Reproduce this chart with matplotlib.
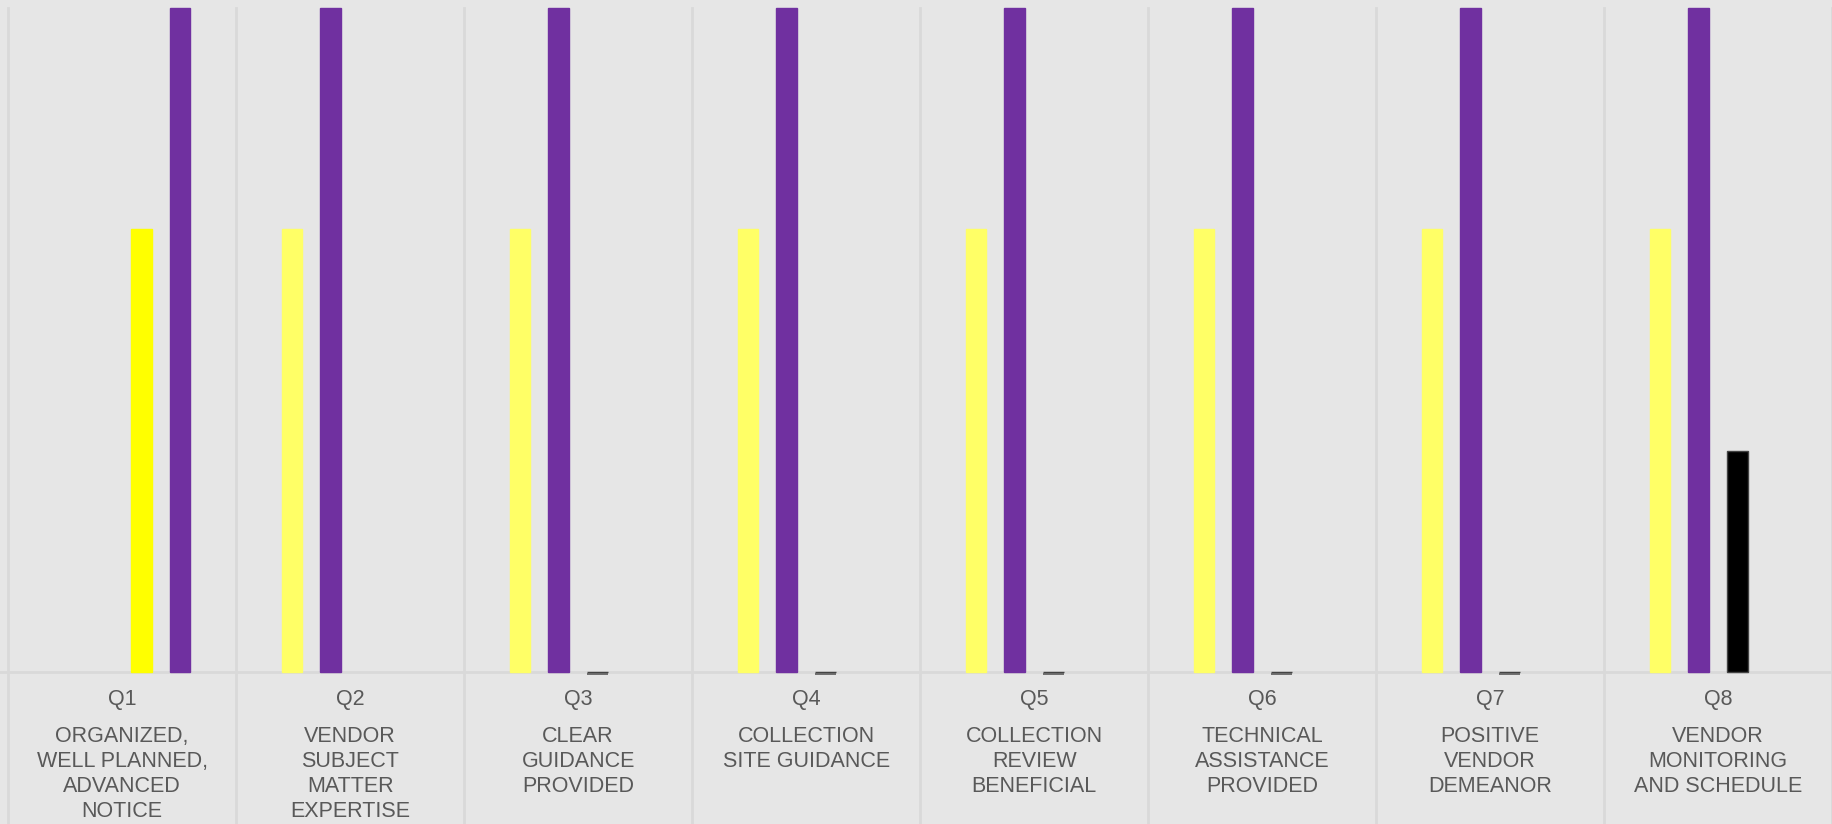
"""
Vendor survey - response counts per question, grouped bars.
"""

import numpy as np
import matplotlib.pyplot as plt

# question codes and their descriptions (shown under the axis)
questions = ["Q1", "Q2", "Q3", "Q4", "Q5", "Q6", "Q7", "Q8"]
descriptions = [
    "ORGANIZED,\nWELL PLANNED,\nADVANCED\nNOTICE",
    "VENDOR\nSUBJECT\nMATTER\nEXPERTISE",
    "CLEAR\nGUIDANCE\nPROVIDED",
    "COLLECTION\nSITE GUIDANCE",
    "COLLECTION\nREVIEW\nBENEFICIAL",
    "TECHNICAL\nASSISTANCE\nPROVIDED",
    "POSITIVE\nVENDOR\nDEMEANOR",
    "VENDOR\nMONITORING\nAND SCHEDULE",
]

# counts per bar slot inside each group (nan = no bar at all)
nan = np.nan
slot1_counts = [nan, 2, 2, 2, 2, 2, 2, 2]
slot2_counts = [nan, 3, 3, 3, 3, 3, 3, 3]
slot3_counts = [2, nan, 0, 0, 0, 0, 0, 1]
slot4_counts = [3, nan, nan, nan, nan, nan, nan, nan]

# colours per slot (Q1 uses a brighter yellow in slot 3)
slot1_colors = ["#ffff66"] * 8
slot2_colors = ["#7030a0"] * 8
slot3_colors = ["#ffff00"] + ["#000000"] * 7
slot4_colors = ["#7030a0"] * 8

BG = "#e6e6e6"
GRID = "#d9d9d9"
TEXT = "#595959"

fig = plt.figure(figsize=(18.33, 8.24), dpi=100, facecolor=BG)
ax = fig.add_axes([0.0044, 0.1845, 0.9951, 0.8058])
ax.set_facecolor(BG)

x = np.arange(len(questions))
step = 0.17
width = 0.09
slots = [
    (slot1_counts, slot1_colors),
    (slot2_counts, slot2_colors),
    (slot3_counts, slot3_colors),
    (slot4_counts, slot4_colors),
]
for k, (vals, cols) in enumerate(slots):
    offset = (k - 1.5) * step
    vals = np.array(vals, dtype=float)
    keep = ~np.isnan(vals)
    edges = ["#444444" if c == "#000000" else c for c in np.array(cols)[keep]]
    ax.bar(
        x[keep] + offset,
        vals[keep],
        width=width,
        color=np.array(cols)[keep],
        edgecolor=edges,
        linewidth=1.0,
        zorder=3,
        clip_on=False,
    )

# zero-count bars show up as a short dash just below the baseline
for k, (vals, cols) in enumerate(slots):
    offset = (k - 1.5) * step
    for i, v in enumerate(vals):
        if v == 0:
            ax.plot(
                [x[i] + offset - width / 2, x[i] + offset + width / 2],
                [-0.009, -0.009],
                color="#5a5a5a",
                lw=1.2,
                solid_capstyle="butt",
                zorder=4,
                clip_on=False,
            )

ax.set_xlim(-0.5, len(questions) - 0.5)
ax.set_ylim(0, np.nanmax([slot1_counts, slot2_counts, slot3_counts, slot4_counts]))

# separators between the groups, running down through the label area
for i in range(len(questions) + 1):
    ax.plot(
        [i - 0.5, i - 0.5],
        [ax.get_ylim()[1], -0.8],
        color=GRID,
        lw=2,
        zorder=1,
        clip_on=False,
    )
ax.axhline(0, xmin=-0.01, xmax=1.0, color=GRID, lw=2, zorder=2, clip_on=False)

for side in ["top", "right", "left", "bottom"]:
    ax.spines[side].set_visible(False)
ax.set_xticks([])
ax.set_yticks([])

for i, (q, desc) in enumerate(zip(questions, descriptions)):
    ax.text(
        x[i], -0.124, q,
        ha="center", va="center",
        fontsize=15.5, color=TEXT, family="Liberation Sans",
    )
    ax.text(
        x[i], -0.245, desc,
        ha="center", va="top",
        fontsize=15.5, color=TEXT, family="Liberation Sans",
        linespacing=1.24,
    )

plt.savefig("out.png", dpi=100, facecolor=BG)
plt.close()
